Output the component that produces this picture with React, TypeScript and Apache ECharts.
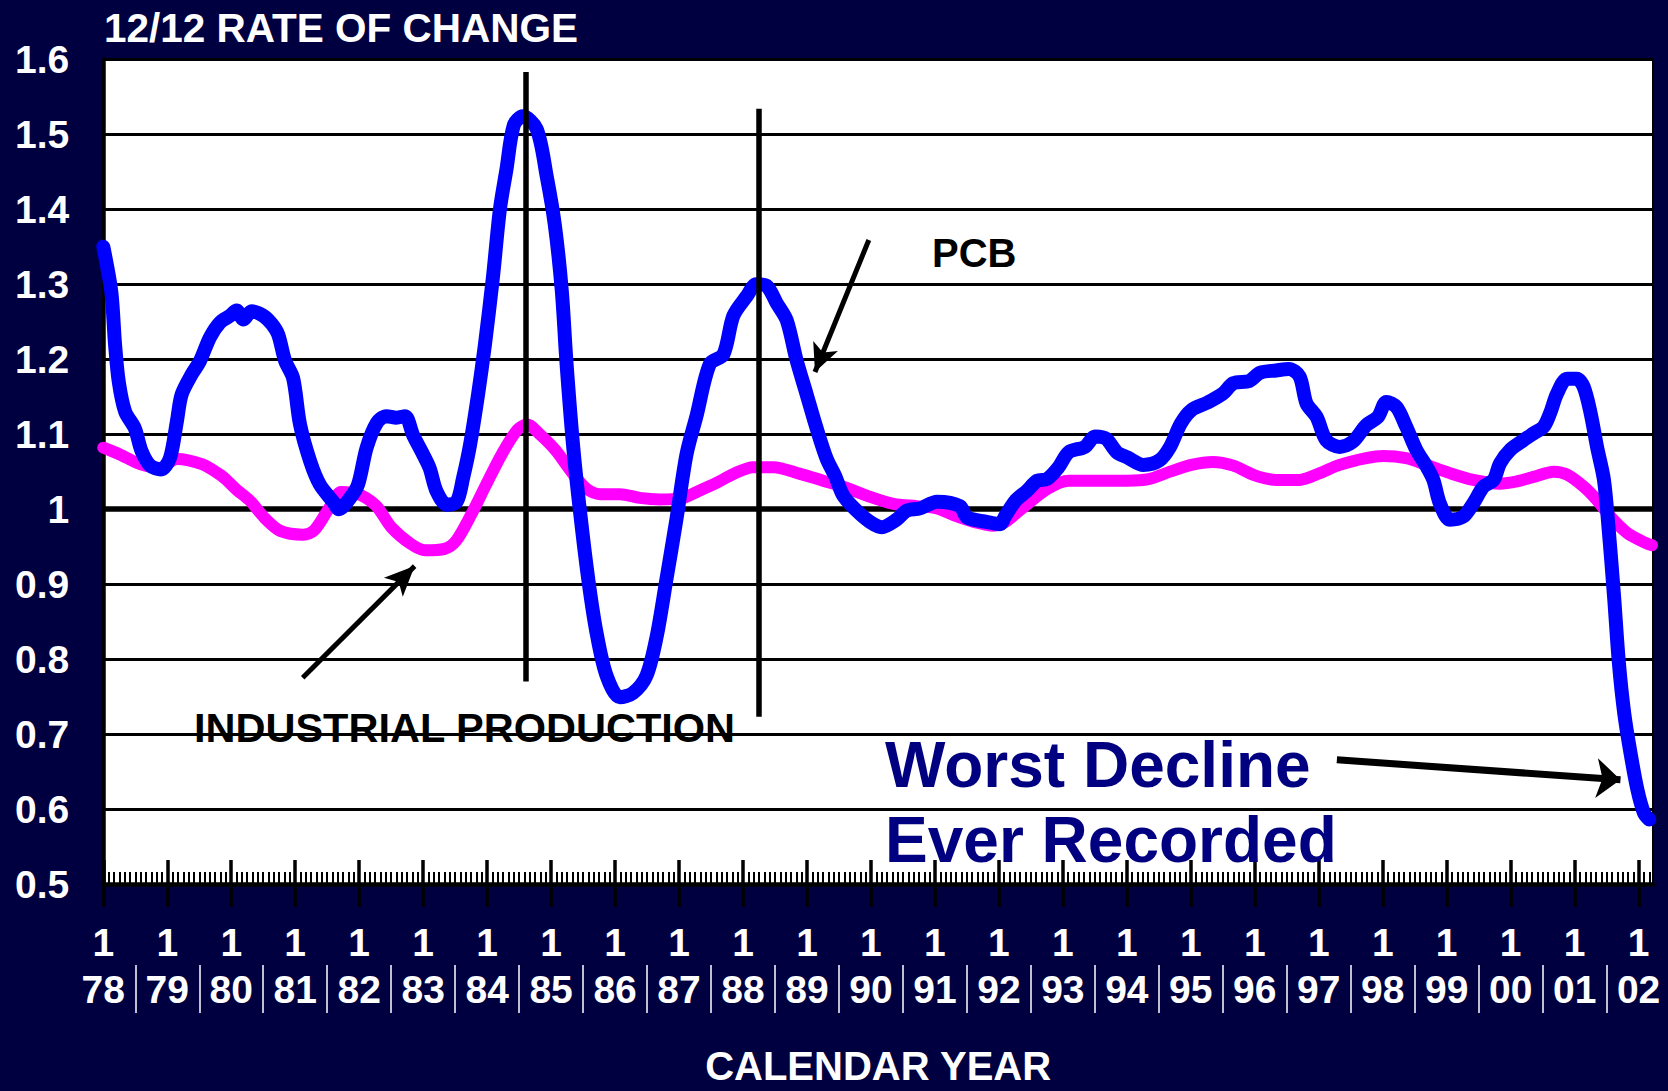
import React, { useEffect, useRef } from "react";
import * as echarts from "echarts";

// ---------- DATA ----------
// x = months since January 1978, y = 12/12 rate of change
const yearLabels = ["78", "79", "80", "81", "82", "83", "84", "85", "86", "87", "88", "89", "90", "91", "92", "93", "94", "95", "96", "97", "98", "99", "00", "01", "02"];
const monthLabel = "1";
const lastMonth = 290.7;

const yMin = 0.5;
const yMax = 1.6;
const yStep = 0.1;
const referenceLevel = 1;

const pcbPoints: [number, number][] = [
  [0, 1.35], [1.5, 1.29], [2.2, 1.22], [2.9, 1.17], [4.1, 1.13], [5.9, 1.108], [7.2, 1.077], [8.8, 1.058],
  [10.8, 1.053], [12.5, 1.068], [13.8, 1.117], [14.7, 1.153], [16.6, 1.18], [18.1, 1.197], [20, 1.229],
  [21.9, 1.249], [23.8, 1.258], [25, 1.265], [26.3, 1.253], [27.8, 1.264], [30, 1.258], [31.6, 1.247],
  [32.8, 1.233], [34.1, 1.198], [35.6, 1.175], [36.9, 1.113], [38.8, 1.064], [40.6, 1.033], [43.1, 1.01],
  [44.2, 1.0], [46.3, 1.015], [47.8, 1.033], [49.4, 1.082], [51.3, 1.115], [53.1, 1.124], [55, 1.122],
  [56.6, 1.124], [58.1, 1.099], [59.7, 1.077], [61.2, 1.055], [62.5, 1.024], [64.4, 1.006], [66.3, 1.01],
  [67.5, 1.042], [68.8, 1.086], [70.3, 1.153], [71.6, 1.22], [73.1, 1.31], [74.4, 1.4], [75.6, 1.452],
  [77.0, 1.512], [78.7, 1.524], [81.3, 1.507], [83.2, 1.443], [84.7, 1.379], [86.0, 1.292], [86.9, 1.194],
  [88.2, 1.079], [89.5, 0.992], [91.0, 0.905], [92.5, 0.836], [94.4, 0.778], [96.9, 0.749], [99.4, 0.755],
  [101.9, 0.778], [103.8, 0.83], [105.6, 0.905], [107.5, 0.986], [109.4, 1.073], [111.3, 1.125],
  [113.8, 1.194], [116.3, 1.206], [118.2, 1.258], [120.7, 1.284], [122.5, 1.3], [124.4, 1.298],
  [126.3, 1.275], [128.2, 1.252], [130.0, 1.2], [131.9, 1.154], [133.8, 1.108], [135.7, 1.067],
  [137.3, 1.044], [138.8, 1.018], [141.3, 0.998], [143.8, 0.983], [146.0, 0.976], [148.8, 0.986],
  [150.7, 0.998], [153.2, 1.001], [156.4, 1.01], [160.7, 1.004], [162.0, 0.989], [165.7, 0.983],
  [168.2, 0.98], [169.2, 0.991], [171.2, 1.012], [173.2, 1.024], [175.2, 1.038], [177, 1.04],
  [179.1, 1.055], [181.1, 1.076], [184.1, 1.083], [186.1, 1.097], [188.1, 1.094], [190.1, 1.076],
  [192.1, 1.069], [195.1, 1.059], [198.1, 1.065], [200.1, 1.083], [202.1, 1.114], [204.1, 1.132],
  [207.1, 1.142], [210.0, 1.154], [212.0, 1.168], [215.0, 1.171], [217.0, 1.182], [220.0, 1.185],
  [222.4, 1.187], [224.4, 1.177], [225.7, 1.141], [227.6, 1.123], [229.4, 1.092], [231.9, 1.083],
  [234.4, 1.09], [236.9, 1.112], [239.1, 1.123], [240.7, 1.143], [242.6, 1.136], [244.4, 1.11],
  [246.3, 1.079], [248.2, 1.057], [249.5, 1.039], [250.7, 1.008], [252.6, 0.986], [255.1, 0.99],
  [257, 1.008], [258.9, 1.03], [260.8, 1.039], [262, 1.061], [263.9, 1.079], [266.4, 1.092],
  [268.3, 1.101], [270.2, 1.11], [271.4, 1.128], [272.7, 1.154], [274.6, 1.174], [276.4, 1.174],
  [277.7, 1.163], [279, 1.128], [280.2, 1.083], [281.5, 1.039], [282.4, 0.972], [283.4, 0.883],
  [284.3, 0.795], [285.3, 0.728], [286.5, 0.674], [287.8, 0.625], [289.0, 0.595], [290, 0.586],
];

const industrialPoints: [number, number][] = [
  [0, 1.082], [3.1, 1.073], [6.9, 1.06], [10.6, 1.055], [13.8, 1.067], [18.5, 1.06], [21.9, 1.046],
  [23.1, 1.039], [25, 1.026], [27.4, 1.012], [30.3, 0.988], [33.2, 0.971], [37.5, 0.966], [39.6, 0.972],
  [42.5, 1.003], [44.6, 1.023], [47.5, 1.021], [51.1, 1.005], [54.0, 0.976], [57.6, 0.954], [60.4, 0.945],
  [64.0, 0.947], [66.2, 0.958], [69.1, 0.994], [71.9, 1.034], [74.8, 1.074], [77.7, 1.106], [79.5, 1.113],
  [82.0, 1.099], [84.9, 1.078], [87.7, 1.051], [90.5, 1.028], [93.2, 1.02], [96.9, 1.02], [100.6, 1.015],
  [104.4, 1.013], [108.2, 1.014], [111.6, 1.024], [115.3, 1.036], [118.2, 1.047], [121.9, 1.056],
  [125.7, 1.056], [130.7, 1.047], [135.0, 1.038], [138.8, 1.03], [143.2, 1.018], [148.2, 1.007],
  [152.6, 1.004], [156.4, 1.001], [159.5, 0.992], [163.3, 0.983], [167.0, 0.978], [169, 0.982],
  [172.2, 1.0], [177.1, 1.027], [181.1, 1.038], [186.1, 1.038], [192.1, 1.038], [196.1, 1.04],
  [200.1, 1.05], [204.1, 1.059], [208.1, 1.063], [212.0, 1.058], [216.0, 1.045], [220.0, 1.039],
  [224.4, 1.039], [228.2, 1.048], [231.9, 1.059], [236.9, 1.068], [240.1, 1.071], [244.4, 1.068],
  [248.2, 1.059], [252.6, 1.048], [257, 1.039], [262, 1.034], [265.2, 1.037], [268.3, 1.043],
  [272.1, 1.05], [274.6, 1.046], [277.7, 1.03], [280.2, 1.012], [282.7, 0.99], [285.9, 0.968],
  [289.6, 0.954], [290.5, 0.952],
];

// vertical cycle markers: [month, top value, bottom value]
const cycleMarkers: [number, number, number][] = [
  [79.3, 1.583, 0.77],
  [123.0, 1.534, 0.723],
];

// annotation arrows: [from month, from value, to month (tip), to value (tip)]
const pcbArrow: [number, number, number, number] = [143.6, 1.359, 133.5, 1.183];
const industrialArrow: [number, number, number, number] = [37.4, 0.775, 58.4, 0.924];
const declineArrow: [number, number, number, number] = [231.4, 0.6657, 284.6, 0.639];

// ---------- STYLE ----------
const NAVY = "#000040";
const FONT = '"Liberation Sans", Arial, Helvetica, sans-serif';

export default function App() {
  const ref = useRef<HTMLDivElement>(null);

  useEffect(() => {
    document.body.style.margin = "0";
    const el = ref.current;
    if (!el) return;
    const chart = echarts.init(el, null, { renderer: "svg" });

    const yearTicks = yearLabels.map((_, i) => i * 12);
    const monthTicks: number[] = [];
    for (let m = 0; m <= Math.floor(lastMonth); m++) monthTicks.push(m);
    const separatorTicks = yearLabels.slice(1).map((_, i) => i * 12 + 6);

    const baseX = {
      type: "value",
      position: "bottom",
      min: 0,
      max: lastMonth,
      splitLine: { show: false },
      axisPointer: { show: false },
    };

    const arrowLine = (a: [number, number, number, number], w: number, size: number[]) => [
      { coord: [a[0], a[1]], symbol: "none", lineStyle: { color: "#000", width: w, type: "solid" } },
      { coord: [a[2], a[3]], symbol: "arrow", symbolSize: size },
    ];

    const option: any = {
      backgroundColor: NAVY,
      animation: false,
      title: {
        text: "12/12 RATE OF CHANGE",
        left: 104,
        top: 7,
        padding: 0,
        textStyle: { color: "#ffffff", fontSize: 40.5, fontWeight: "bold", fontFamily: FONT },
      },
      grid: {
        left: 103.3,
        right: 15,
        top: 59.3,
        bottom: 207,
        show: true,
        backgroundColor: "#ffffff",
        borderColor: "#000000",
        borderWidth: 2,
        containLabel: false,
        outerBoundsMode: "none",
      },
      xAxis: [
        {
          ...baseX,
          axisLine: { show: true, onZero: false, lineStyle: { color: "#000", width: 4.5 } },
          axisTick: { show: true, customValues: yearTicks, length: 23, lineStyle: { color: "#000", width: 3.5 } },
          axisLabel: {
            show: true,
            customValues: yearTicks,
            margin: 34.5,
            formatter: (v: number) => `{m|${monthLabel}}\n{y|${yearLabels[Math.round(v / 12)] ?? ""}}`,
            rich: {
              m: { color: "#fff", fontSize: 39, fontWeight: "bold", fontFamily: FONT, lineHeight: 47.5 },
              y: { color: "#fff", fontSize: 39, fontWeight: "bold", fontFamily: FONT, lineHeight: 47.5 },
            },
          },
          name: "CALENDAR YEAR",
          nameLocation: "middle",
          nameGap: 165,
          nameTextStyle: { color: "#fff", fontSize: 40, fontWeight: "bold", fontFamily: FONT, lineHeight: 34 },
        },
        {
          ...baseX,
          axisLine: { show: false, onZero: false },
          axisTick: { show: true, inside: true, customValues: yearTicks, length: 24, lineStyle: { color: "#000", width: 3.5 } },
          axisLabel: { show: false },
        },
        {
          ...baseX,
          axisLine: { show: false, onZero: false },
          axisTick: { show: true, inside: true, customValues: monthTicks, length: 12, lineStyle: { color: "#000", width: 2 } },
          axisLabel: { show: false },
        },
        {
          ...baseX,
          offset: 81,
          axisLine: { show: false, onZero: false },
          axisTick: { show: true, customValues: separatorTicks, length: 48, lineStyle: { color: "#fff", width: 1.5 } },
          axisLabel: { show: false },
        },
      ],
      yAxis: {
        type: "value",
        min: yMin,
        max: yMax,
        interval: yStep,
        axisLine: { show: true, lineStyle: { color: "#000", width: 3.5 } },
        axisTick: { show: false },
        axisLabel: { color: "#fff", fontSize: 39, fontWeight: "bold", fontFamily: FONT, margin: 34 },
        splitLine: { show: true, lineStyle: { color: "#000", width: 3 } },
      },
      series: [
        {
          type: "line",
          data: [],
          z: 1,
          markLine: {
            z: 1,
            silent: true,
            symbol: ["none", "none"],
            label: { show: false },
            lineStyle: { color: "#000", width: 5.5, type: "solid" },
            data: [{ yAxis: referenceLevel }],
          },
        },
        {
          name: "INDUSTRIAL PRODUCTION",
          type: "line",
          data: industrialPoints,
          showSymbol: false,
          smooth: 0.3,
          z: 3,
          lineStyle: { color: "#ff00ff", width: 12, cap: "round", join: "round" },
        },
        {
          name: "PCB",
          type: "line",
          data: pcbPoints,
          showSymbol: false,
          smooth: 0.3,
          z: 4,
          lineStyle: { color: "#0000ff", width: 14, cap: "round", join: "round" },
        },
        {
          type: "line",
          data: [],
          z: 10,
          markLine: {
            z: 10,
            silent: true,
            symbol: ["none", "none"],
            label: { show: false },
            lineStyle: { color: "#000", width: 5.5, type: "solid" },
            emphasis: { disabled: true },
            data: [
              ...cycleMarkers.map((c) => [
                { coord: [c[0], c[1]], symbol: "none" },
                { coord: [c[0], c[2]], symbol: "none" },
              ]),
              arrowLine(pcbArrow, 5, [20, 28]),
              arrowLine(industrialArrow, 5, [20, 30]),
              arrowLine(declineArrow, 7, [30, 24]),
            ],
          },
        },
      ],
      graphic: [
        {
          type: "text",
          x: 932,
          y: 253,
          z: 100,
          style: { text: "PCB", fill: "#000", font: `bold 40px ${FONT}`, textVerticalAlign: "middle", verticalAlign: "middle" },
        },
        {
          type: "text",
          x: 194,
          y: 727.5,
          z: 100,
          style: { text: "INDUSTRIAL PRODUCTION", fill: "#000", font: `bold 41.5px ${FONT}`, textVerticalAlign: "middle", verticalAlign: "middle" },
        },
        {
          type: "text",
          x: 885,
          y: 765,
          z: 100,
          style: { text: "Worst Decline", fill: "#000080", font: `bold 64px ${FONT}`, textVerticalAlign: "middle", verticalAlign: "middle" },
        },
        {
          type: "text",
          x: 885,
          y: 840,
          z: 100,
          style: { text: "Ever Recorded", fill: "#000080", font: `bold 64px ${FONT}`, textVerticalAlign: "middle", verticalAlign: "middle" },
        },
      ],
    };

    chart.setOption(option);
    return () => chart.dispose();
  }, []);

  return (
    <div
      ref={ref}
      style={{ position: "absolute", left: 0, top: 0, width: 1668, height: 1091, background: NAVY }}
    />
  );
}
